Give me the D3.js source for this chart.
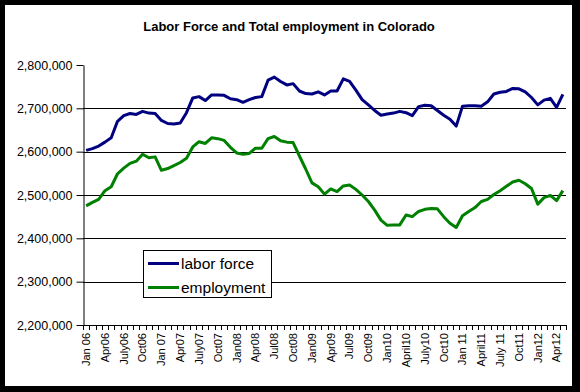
<!DOCTYPE html>
<html>
<head>
<meta charset="utf-8">
<script src="https://cdnjs.cloudflare.com/ajax/libs/d3/7.8.5/d3.min.js"></script>
<style>
  html, body { margin: 0; padding: 0; background: #000; }
  svg { display: block; }
  text { font-family: "Liberation Sans", Arial, sans-serif; fill: #000; }
</style>
</head>
<body>
<svg id="chart" width="580" height="392"></svg>
<script>
// ---- Data ----
const months = [
  "Jan06","Feb06","Mar06","Apr06","May06","Jun06","Jul06","Aug06","Sep06","Oct06","Nov06","Dec06",
  "Jan07","Feb07","Mar07","Apr07","May07","Jun07","Jul07","Aug07","Sep07","Oct07","Nov07","Dec07",
  "Jan08","Feb08","Mar08","Apr08","May08","Jun08","Jul08","Aug08","Sep08","Oct08","Nov08","Dec08",
  "Jan09","Feb09","Mar09","Apr09","May09","Jun09","Jul09","Aug09","Sep09","Oct09","Nov09","Dec09",
  "Jan10","Feb10","Mar10","Apr10","May10","Jun10","Jul10","Aug10","Sep10","Oct10","Nov10","Dec10",
  "Jan11","Feb11","Mar11","Apr11","May11","Jun11","Jul11","Aug11","Sep11","Oct11","Nov11","Dec11",
  "Jan12","Feb12","Mar12","Apr12","May12"
];
const laborForce = [
  2603000,2607000,2613000,2622000,2632000,2670000,2683000,2688000,2686000,2693000,2689000,2688000,
  2672000,2665000,2664000,2666000,2690000,2724000,2727000,2718000,2731000,2731000,2730000,2722000,
  2720000,2714000,2720000,2725000,2727000,2765000,2772000,2762000,2754000,2757000,2740000,2734000,
  2733000,2738000,2731000,2740000,2740000,2768000,2762000,2742000,2720000,2708000,2695000,2684000,
  2687000,2689000,2693000,2690000,2683000,2704000,2707000,2706000,2695000,2684000,2675000,2659000,
  2705000,2706000,2706000,2705000,2715000,2733000,2737000,2739000,2746000,2745000,2738000,2725000,
  2708000,2719000,2723000,2702000,2732000
];
const employment = [
  2475000,2483000,2490000,2510000,2519000,2549000,2562000,2573000,2578000,2594000,2586000,2588000,
  2557000,2561000,2568000,2575000,2585000,2611000,2623000,2619000,2632000,2630000,2626000,2610000,
  2597000,2594000,2596000,2608000,2608000,2630000,2635000,2625000,2622000,2621000,2590000,2560000,
  2528000,2519000,2502000,2514000,2508000,2521000,2523000,2513000,2500000,2485000,2465000,2442000,
  2430000,2431000,2431000,2454000,2450000,2462000,2467000,2469000,2468000,2450000,2435000,2425000,
  2452000,2462000,2471000,2485000,2490000,2501000,2510000,2520000,2530000,2534000,2526000,2515000,
  2479000,2494000,2499000,2487000,2510000
];
const tickLabelMonths = ["Jan06","Apr06","Jul06","Oct06","Jan07","Apr07","Jul07","Oct07","Jan08","Apr08","Jul08","Oct08",
  "Jan09","Apr09","Jul09","Oct09","Jan10","Apr10","Jul10","Oct10","Jan11","Apr11","Jul11","Oct11","Jan12","Apr12"];
const tickLabels = ["Jan 06","Apr06","July06","Oct06","Jan 07","Apr07","July07","Oct07","Jan08","Apr08","Jul08","Oct08",
  "Jan09","Apr09","Jul09","Oct09","Jan10","April10","July10","Oct10","Jan 11","April11","July 11","Oct11","Jan12","Apr12"];
const yTicks = [2200000,2300000,2400000,2500000,2600000,2700000,2800000];
const gridValues = [2300000,2400000,2500000,2600000,2700000];
const seriesNames = ["labor force","employment"];
const seriesColors = ["#000080","#008000"];

// ---- Drawing ----
(function () {
const svg = d3.select("#chart");
svg.append("rect").attr("x",0).attr("y",0).attr("width",580).attr("height",392).attr("fill","#000");
svg.append("rect").attr("x",5).attr("y",5).attr("width",567).attr("height",381).attr("fill","#fff");

const pL = 83, pR = 566, pT = 65, pB = 325;
const x = d3.scaleBand().domain(months).range([pL, pR]).paddingInner(0).paddingOuter(0);
const y = d3.scaleLinear().domain([2200000, 2800000]).range([pB, pT]);
const cx = m => x(m) + x.bandwidth() / 2;

// title
svg.append("text").attr("x", 289).attr("y", 31).attr("text-anchor","middle")
  .style("font-size","13px").style("font-weight","bold")
  .text("Labor Force and Total employment in Colorado");

// gridlines
svg.append("g").selectAll("line").data(gridValues).join("line")
  .attr("x1", pL).attr("x2", pR)
  .attr("y1", d => Math.round(y(d)) + 0.5).attr("y2", d => Math.round(y(d)) + 0.5)
  .attr("stroke","#000").attr("stroke-width",1);

// y axis
const yAxis = d3.axisLeft(y).tickValues(yTicks).tickFormat(d3.format(",")).tickSize(7).tickSizeOuter(0).tickPadding(4);
const gy = svg.append("g").attr("transform", `translate(${pL + 0.5},0)`).call(yAxis);
gy.selectAll("text").style("font-size","12.5px").attr("fill","#000");
gy.selectAll("line,path").attr("stroke","#000");

// x axis
const gx = svg.append("g");
gx.append("line").attr("x1", pL).attr("x2", pR).attr("y1", pB + 0.5).attr("y2", pB + 0.5).attr("stroke","#000");
const boundaries = months.map(m => x(m)).concat([pR]);
gx.selectAll("line.tick").data(boundaries).join("line").attr("class","tick")
  .attr("x1", d => Math.round(d) + 0.5).attr("x2", d => Math.round(d) + 0.5)
  .attr("y1", pB).attr("y2", pB + 5).attr("stroke","#000");
gx.selectAll("text").data(tickLabelMonths).join("text")
  .attr("transform", d => `translate(${cx(d)},${pB + 8}) rotate(-90)`)
  .attr("text-anchor","end").attr("dy","0.35em")
  .style("font-size","11px")
  .text((d,i) => tickLabels[i]);

// lines
const line = d3.line().x((d,i) => cx(months[i])).y(d => y(d));
[laborForce, employment].forEach((s, k) => {
  svg.append("path").datum(s).attr("d", line).attr("fill","none")
    .attr("stroke", seriesColors[k]).attr("stroke-width", 3).attr("stroke-linejoin","round");
});

// legend
const lg = svg.append("g");
lg.append("rect").attr("x",143.5).attr("y",250.5).attr("width",128).attr("height",47)
  .attr("fill","#fff").attr("stroke","#000");
seriesNames.forEach((n, k) => {
  const yy = 263.5 + k * 24;
  lg.append("line").attr("x1",148).attr("x2",179).attr("y1",yy).attr("y2",yy)
    .attr("stroke", seriesColors[k]).attr("stroke-width",3);
  lg.append("text").attr("x",181).attr("y",yy).attr("dy","0.35em")
    .style("font-size","15.5px").text(n);
});
})();
</script>
</body>
</html>
